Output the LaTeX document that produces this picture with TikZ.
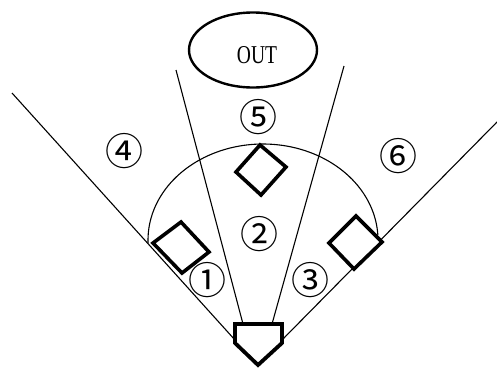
\documentclass[tikz,border=0pt]{standalone}
\usepackage{fontspec}
\usepackage{graphicx}
\setmainfont{Liberation Serif}
\newfontfamily\cjk{Noto Sans CJK JP}
\usetikzlibrary{shapes.geometric}
\begin{document}
\begin{tikzpicture}[x=1pt,y=-1pt,
  thinline/.style={line width=1.1pt},
  basebox/.style={line width=3.6pt, fill=white, line join=miter},
  numlabel/.style={inner sep=0pt, font=\cjk\fontsize{38}{38}\selectfont},
]
\useasboundingbox (0,0) rectangle (497,370);
% coordinates
\coordinate (lf) at (12,93);
\coordinate (rf) at (497,122);
\coordinate (hl) at (235,340);
\coordinate (hr) at (282,340);
\coordinate (il) at (176,70);
\coordinate (ilb) at (243,324);
\coordinate (ir) at (344,66);
\coordinate (irb) at (272,324);
% foul lines
\draw[thinline] (lf) -- (hl);
\draw[thinline] (rf) -- (hr);
% inner lines
\draw[thinline] (il) -- (ilb);
\draw[thinline] (ir) -- (irb);
% arc
\draw[thinline] plot[domain=3:182, samples=80, smooth] ({263+115*cos(\x)},{240-96*sin(\x)});
% bases
\draw[basebox] (153,243) -- (181,222) -- (209,252) -- (182,273) -- cycle;
\draw[basebox] (236,172) -- (260,145) -- (286,167) -- (261,195) -- cycle;
\draw[basebox] (329,243) -- (356,216) -- (382,242) -- (354,269) -- cycle;
% home plate
\draw[line width=3.8pt, fill=white, line join=miter] (235,324) -- (282,324) -- (282,343) -- (258,365) -- (235,343) -- cycle;
% OUT ellipse
\node[draw, ellipse, line width=2.4pt, minimum width=128pt, minimum height=75pt, inner sep=0pt] (out) at (253,50) {};
\node[inner sep=0pt, font=\fontsize{25.7}{26}\selectfont] (outtext) at (257,55) {\scalebox{0.76}[1]{OUT}};
% labels
\node[numlabel] (n1) at (207,280) {①};
\node[numlabel] (n2) at (259,234) {②};
\node[numlabel] (n3) at (310,280) {③};
\node[numlabel] (n4) at (124,151) {④};
\node[numlabel] (n5) at (258,117) {⑤};
\node[numlabel] (n6) at (398,156) {⑥};
\end{tikzpicture}
\end{document}
